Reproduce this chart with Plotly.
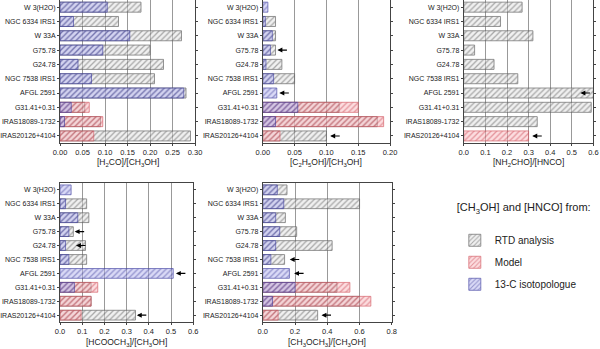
import plotly.graph_objects as go

sources = ["W 3(H2O)", "NGC 6334 IRS1", "W 33A", "G75.78", "G24.78",
           "NGC 7538 IRS1", "AFGL 2591", "G31.41+0.31", "IRAS18089-1732", "IRAS20126+4104"]

# [H2CO]/[CH3OH]
h2co_rtd = [0.18, 0.13, 0.27, 0.20, 0.23, 0.21, 0.28, 0.055, 0.09, 0.29]
h2co_model = [None, None, None, None, None, None, None, 0.065, 0.095, 0.075]
h2co_c13 = [0.105, 0.03, 0.155, 0.095, 0.04, 0.07, 0.275, 0.025, 0.01, None]
h2co_lim = {}

# [C2H5OH]/[CH3OH]
etoh_rtd = [None, 0.02, 0.02, 0.02, 0.03, 0.05, None, 0.12, 0.18, 0.10]
etoh_model = [None, None, None, None, None, None, None, 0.15, 0.19, 0.027]
etoh_c13 = [0.008, 0.004, 0.015, 0.012, 0.005, 0.017, 0.022, 0.055, 0.02, None]
etoh_lim = {"G75.78": 0.023, "AFGL 2591": 0.026, "IRAS20126+4104": 0.106}

# [NH2CHO]/[HNCO]
nh2cho_rtd = [0.27, 0.17, 0.32, 0.05, 0.14, 0.25, 0.60, 0.59, 0.34, None]
nh2cho_model = [None, None, None, None, None, None, None, None, None, 0.30]
nh2cho_c13 = [None] * 10
nh2cho_lim = {"AFGL 2591": 0.54, "IRAS20126+4104": 0.317}

# [HCOOCH3]/[CH3OH]
mf_rtd = [None, 0.12, 0.13, 0.06, 0.115, 0.12, None, 0.14, 0.14, 0.34]
mf_model = [None, None, None, None, None, None, None, 0.17, 0.14, 0.095]
mf_c13 = [0.05, 0.025, 0.08, 0.04, 0.025, 0.04, 0.51, 0.065, None, None]
mf_lim = {"G75.78": 0.066, "G24.78": 0.072, "AFGL 2591": 0.522, "IRAS20126+4104": 0.346}

# [CH3OCH3]/[CH3OH]
dme_rtd = [0.15, 0.60, 0.14, 0.21, 0.43, 0.135, None, 0.46, 0.60, 0.34]
dme_model = [None, None, None, None, None, None, None, 0.54, 0.67, 0.095]
dme_c13 = [0.09, 0.13, 0.08, 0.105, 0.08, 0.05, 0.165, 0.20, 0.06, None]
dme_lim = {"NGC 7538 IRS1": 0.167, "AFGL 2591": 0.194, "IRAS20126+4104": 0.364}

# title, rtd, model, 13c, limits, range, dtick, format, x domain, y domain, title y
panels = [
    ("[H<sub>2</sub>CO]/[CH<sub>3</sub>OH]", h2co_rtd, h2co_model, h2co_c13, h2co_lim,
     [0, 0.3], 0.05, ".2f", [0.100, 0.325], [0.590, 1.0], 0.533),
    ("[C<sub>2</sub>H<sub>5</sub>OH]/[CH<sub>3</sub>OH]", etoh_rtd, etoh_model, etoh_c13, etoh_lim,
     [0, 0.2], 0.05, ".2f", [0.438, 0.650], [0.590, 1.0], 0.533),
    ("[NH<sub>2</sub>CHO]/[HNCO]", nh2cho_rtd, nh2cho_model, nh2cho_c13, nh2cho_lim,
     [0, 0.6], 0.1, ".1f", [0.773, 0.989], [0.590, 1.0], 0.533),
    ("[HCOOCH<sub>3</sub>]/[CH<sub>3</sub>OH]", mf_rtd, mf_model, mf_c13, mf_lim,
     [0, 0.6], 0.1, ".1f", [0.100, 0.322], [0.077, 0.476], 0.018),
    ("[CH<sub>3</sub>OCH<sub>3</sub>]/[CH<sub>3</sub>OH]", dme_rtd, dme_model, dme_c13, dme_lim,
     [0, 0.8], 0.2, ".1f", [0.438, 0.653], [0.077, 0.476], 0.018),
]

styles = [
    ("RTD analysis", "rgba(60,60,60,1)", "rgba(225,225,225,0.6)", "rgba(90,90,90,1)"),
    ("Model", "rgba(190,30,45,1)", "rgba(250,185,190,0.6)", "rgba(210,80,90,1)"),
    ("13-C isotopologue", "rgba(30,30,140,1)", "rgba(185,185,240,0.65)", "rgba(60,60,160,1)"),
]

fig = go.Figure()
font = "Liberation Sans, Arial, sans-serif"

for i, (title, rtd, model, c13, lim, xr, dt, fmt, xd, yd, ty) in enumerate(panels):
    n = "" if i == 0 else str(i + 1)
    for (name, fg, bg, lc), vals in zip(styles, [rtd, model, c13]):
        fig.add_trace(go.Bar(
            x=vals, y=sources, orientation="h", name=name,
            xaxis="x" + n, yaxis="y" + n, width=0.7,
            showlegend=(i == 0), legendgroup=name, opacity=0.8,
            marker=dict(color=bg, line=dict(color=lc, width=0.8),
                        pattern=dict(shape="/", fgcolor=fg, size=4, solidity=0.33)),
        ))
    for src, xv in lim.items():
        fig.add_annotation(x=xv, y=src, xref="x" + n, yref="y" + n, text="",
                           showarrow=True, ax=11, ay=0, arrowhead=2, arrowsize=0.9,
                           arrowwidth=1.1, arrowcolor="black")
    # axis title as a paper annotation so it is not squeezed by the zero margins
    fig.add_annotation(x=sum(xd) / 2, y=ty, xref="paper", yref="paper", text=title,
                       showarrow=False, xanchor="center", yanchor="middle",
                       font=dict(size=8.5, color="#222"))
    fig.update_layout(**{
        "xaxis" + n: dict(domain=xd, anchor="y" + n, range=xr, dtick=dt, tick0=0,
                          tickformat=fmt, showgrid=True, gridcolor="#999", gridwidth=0.8,
                          showline=True, linecolor="#444", mirror=True, ticks="outside",
                          ticklen=2, tickcolor="#444", zeroline=False, automargin=False,
                          tickfont=dict(size=7.5, color="#222")),
        "yaxis" + n: dict(domain=yd, anchor="x" + n, autorange="reversed",
                          showline=True, linecolor="#444", mirror="ticks", ticks="outside",
                          ticklen=2, tickcolor="#444", showgrid=False, automargin=False,
                          tickfont=dict(size=7, color="#222")),
    })

fig.update_layout(
    width=600, height=349, barmode="overlay",
    margin=dict(l=0, r=0, t=0, b=0),
    plot_bgcolor="white", paper_bgcolor="white",
    font=dict(family=font, size=9, color="#222"),
    legend=dict(x=0.758, y=0.435, xanchor="left", yanchor="top",
                title=dict(text="[CH<sub>3</sub>OH] and [HNCO] from:<br> ", font=dict(size=11)),
                font=dict(size=10), tracegroupgap=3, bgcolor="rgba(0,0,0,0)"),
)

# drop the browser's default 8px body margin so the figure fills the window
fig.write_html("out.html", config={"displayModeBar": False},
               post_script="document.body.style.margin = '0';")
